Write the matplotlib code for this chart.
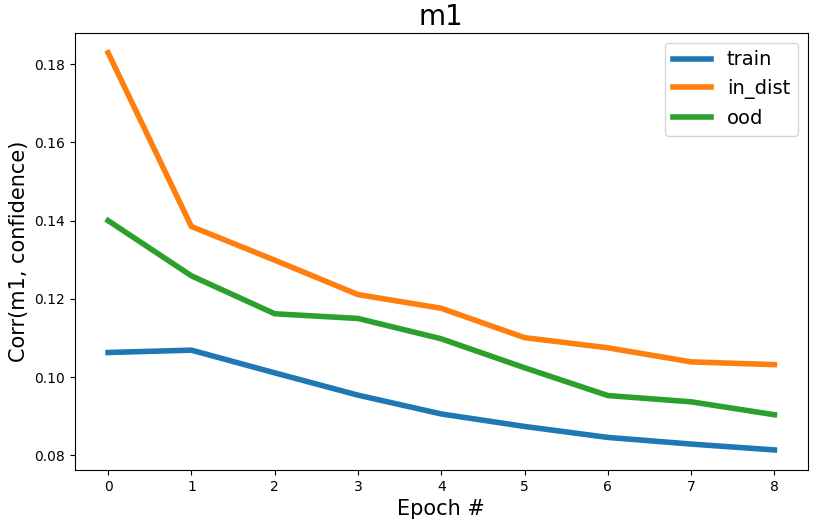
import matplotlib
matplotlib.use("Agg")
import matplotlib.pyplot as plt

# values
epochs = [0, 1, 2, 3, 4, 5, 6, 7, 8]
train = [0.1063, 0.1069, 0.1011, 0.0954, 0.0906, 0.0874, 0.0846, 0.0829, 0.0814]
in_dist = [0.1829, 0.1385, 0.1299, 0.1211, 0.1176, 0.1101, 0.1075, 0.1039, 0.1032]
ood = [0.1400, 0.1259, 0.1162, 0.1150, 0.1098, 0.1024, 0.0953, 0.0937, 0.0904]

fig, ax = plt.subplots(figsize=(8.31, 5.22), dpi=100)
fig.subplots_adjust(left=0.090, right=0.972, bottom=0.100, top=0.937)

ax.plot(epochs, train, label='train', linewidth=4)
ax.plot(epochs, in_dist, label='in_dist', linewidth=4)
ax.plot(epochs, ood, label='ood', linewidth=4)

ax.set_title('m1', fontsize=20)
ax.set_xlabel('Epoch #', fontsize=15)
ax.set_ylabel('Corr(m1, confidence)', fontsize=15)
ax.set_xticks(epochs)
ax.set_yticks([0.08, 0.10, 0.12, 0.14, 0.16, 0.18])
ax.legend(fontsize=14, loc='upper right')

fig.savefig('out.png')
